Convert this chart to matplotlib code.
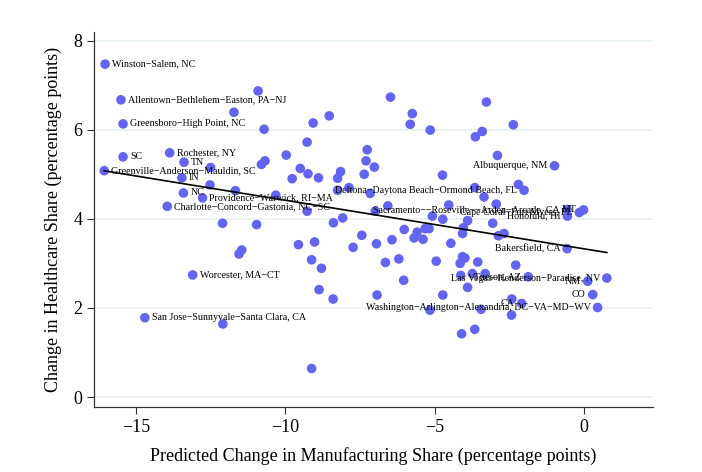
import numpy as np
import matplotlib
matplotlib.use('Agg')
import matplotlib.pyplot as plt

plt.rcParams['font.family'] = ['Liberation Serif', 'DejaVu Serif']

M = "\u2212"  # Stata draws hyphens as minus signs

# --- Data (metro areas) ---
# predicted change in manufacturing share (x), change in healthcare share (y)
mfg_change = [
    -16.03, -10.91, -15.50, -11.72, -15.43, -10.71, -15.43, -13.87, -13.39, -12.50,
    -10.80, -10.68, -9.97, -16.06, -13.46, -12.52, -11.67, -13.41, -12.77, -10.32,
    -13.95, -12.10, -10.96, -11.46, -11.55, -13.10, -14.70, -12.09, -9.12,
    -6.48, -8.53, -9.07, -5.75, -5.82, -5.15, -9.27, -7.26, -7.30, -7.02,
    -9.50, -9.24, -8.89, -9.77, -8.15, -8.25, -7.36, -4.74, -7.87, -8.25,
    -7.16, -9.27, -8.39, -8.08, -6.99, -6.57, -4.53, -5.08, -4.73, -6.02,
    -5.59, -5.69, -5.39, -5.32, -5.19, -4.04, -4.07, -3.90, -7.44, -6.43,
    -6.95, -7.73, -9.02, -9.56, -4.46, -9.12, -8.79, -6.65, -6.20, -4.95,
    -4.07, -4.15, -3.99, -6.04, -4.13, -3.74, -3.31, -3.90, -8.87, -8.40,
    -6.93, -4.73, -5.16, -3.45, -4.10, -3.66, -2.43, -2.09, -2.42,
    -3.27, -2.37, -3.41, -3.64, -2.90, -0.99, -2.20, -2.01, -3.66, -3.35,
    -2.94, -3.06, -0.57, -0.56, -0.16, -0.02, -2.87, -2.68, -0.57, -3.56,
    -2.29, -1.87, 0.76, 0.12, 0.29, 0.45,
]
health_change = [
    7.47, 6.87, 6.67, 6.39, 6.13, 6.01, 5.39, 5.48, 5.27, 5.15,
    5.22, 5.30, 5.43, 5.08, 4.92, 4.76, 4.63, 4.58, 4.47, 4.53,
    4.28, 3.90, 3.87, 3.30, 3.21, 2.74, 1.78, 1.64, 0.64,
    6.73, 6.31, 6.15, 6.36, 6.12, 5.99, 5.72, 5.55, 5.30, 5.16,
    5.13, 5.01, 4.92, 4.90, 5.06, 4.91, 5.00, 4.98, 4.70, 4.64,
    4.57, 4.17, 3.91, 4.02, 4.17, 4.29, 4.31, 4.06, 3.99, 3.76,
    3.70, 3.57, 3.54, 3.78, 3.78, 3.80, 3.67, 3.96, 3.63, 3.53,
    3.44, 3.36, 3.48, 3.42, 3.45, 3.08, 2.89, 3.02, 3.10, 3.05,
    3.15, 3.00, 3.12, 2.62, 2.73, 2.77, 2.77, 2.46, 2.41, 2.20,
    2.29, 2.29, 1.95, 1.97, 1.42, 1.52, 1.84, 2.10, 2.20,
    6.62, 6.11, 5.96, 5.84, 5.42, 5.19, 4.77, 4.64, 4.70, 4.49,
    4.33, 3.90, 4.21, 4.06, 4.14, 4.20, 3.62, 3.67, 3.33, 3.03,
    2.96, 2.70, 2.67, 2.60, 2.30, 2.01,
]

# labelled points: (index into the arrays, label, side)
labels = [
    (0, f"Winston{M}Salem, NC", "right"),
    (2, f"Allentown{M}Bethlehem{M}Easton, PA{M}NJ", "right"),
    (4, f"Greensboro{M}High Point, NC", "right"),
    (6, "SC", "right"),
    (7, "Rochester, NY", "right"),
    (8, "TN", "right"),
    (13, f"Greenville{M}Anderson{M}Mauldin, SC", "right"),
    (14, "IN", "right"),
    (17, "NC", "right"),
    (18, f"Providence{M}Warwick, RI{M}MA", "right"),
    (20, f"Charlotte{M}Concord{M}Gastonia, NC{M}SC", "right"),
    (25, f"Worcester, MA{M}CT", "right"),
    (26, f"San Jose{M}Sunnyvale{M}Santa Clara, CA", "right"),
    (96, "CA", "left"),
    (103, "Albuquerque, NM", "left"),
    (105, f"Deltona{M}Daytona Beach{M}Ormond Beach, FL", "left"),
    (110, f"Sacramento{M}{M}Roseville{M}{M}Arden{M}Arcade, CA", "left"),
    (113, "MT", "left"),
    (112, f"Cape Coral{M}Fort Myers, FL", "left"),
    (111, "Honolulu, HI", "left"),
    (116, "Bakersfield, CA", "left"),
    (119, "Tucson, AZ", "left"),
    (120, f"Las Vegas{M}Henderson{M}Paradise, NV", "left"),
    (121, "NM", "left"),
    (122, "CO", "left"),
    (123, f"Washington{M}Arlington{M}Alexandria, DC{M}VA{M}MD{M}WV", "left"),
]

# fitted line
fit_intercept = 3.326
fit_slope = -0.109

x_ticks = [-15, -10, -5, 0]
y_ticks = [0, 2, 4, 6, 8]

x = np.array(mfg_change)
y = np.array(health_change)

fig = plt.figure(figsize=(7.02, 4.72), dpi=100, facecolor='white')
ax = fig.add_axes([0.134, 0.138, 0.796, 0.795])

for t in y_ticks:
    ax.axhline(t, color='#eaf2f3', lw=1.4, zorder=0)

ax.scatter(x, y, s=48, color='#6464f2', edgecolors='none', zorder=3)

xs = np.array([x.min(), x.max()])
ax.plot(xs, fit_intercept + fit_slope * xs, color='black', lw=1.2, zorder=4)

for i, text, side in labels:
    dx = 5 if side == "right" else -5
    ax.annotate(text, (x[i], y[i]), xytext=(dx, 0), textcoords='offset points',
                ha='left' if side == "right" else 'right', va='center',
                fontsize=7.2, color='black', zorder=5)

ax.set_xlim(-16.4, 2.3)
ax.set_ylim(-0.22, 8.2)
ax.set_xticks(x_ticks)
ax.set_yticks(y_ticks)
ax.tick_params(labelsize=13, length=5, width=0.8, color='#333333', direction='out')
for side in ['top', 'right']:
    ax.spines[side].set_visible(False)
for side in ['left', 'bottom']:
    ax.spines[side].set_color('#333333')
    ax.spines[side].set_linewidth(0.9)

ax.set_xlabel("Predicted Change in Manufacturing Share (percentage points)", fontsize=13, labelpad=8)
ax.set_ylabel("Change in Healthcare Share (percentage points)", fontsize=13, labelpad=8)

plt.savefig("out.png", dpi=100, facecolor='white')
plt.close()
